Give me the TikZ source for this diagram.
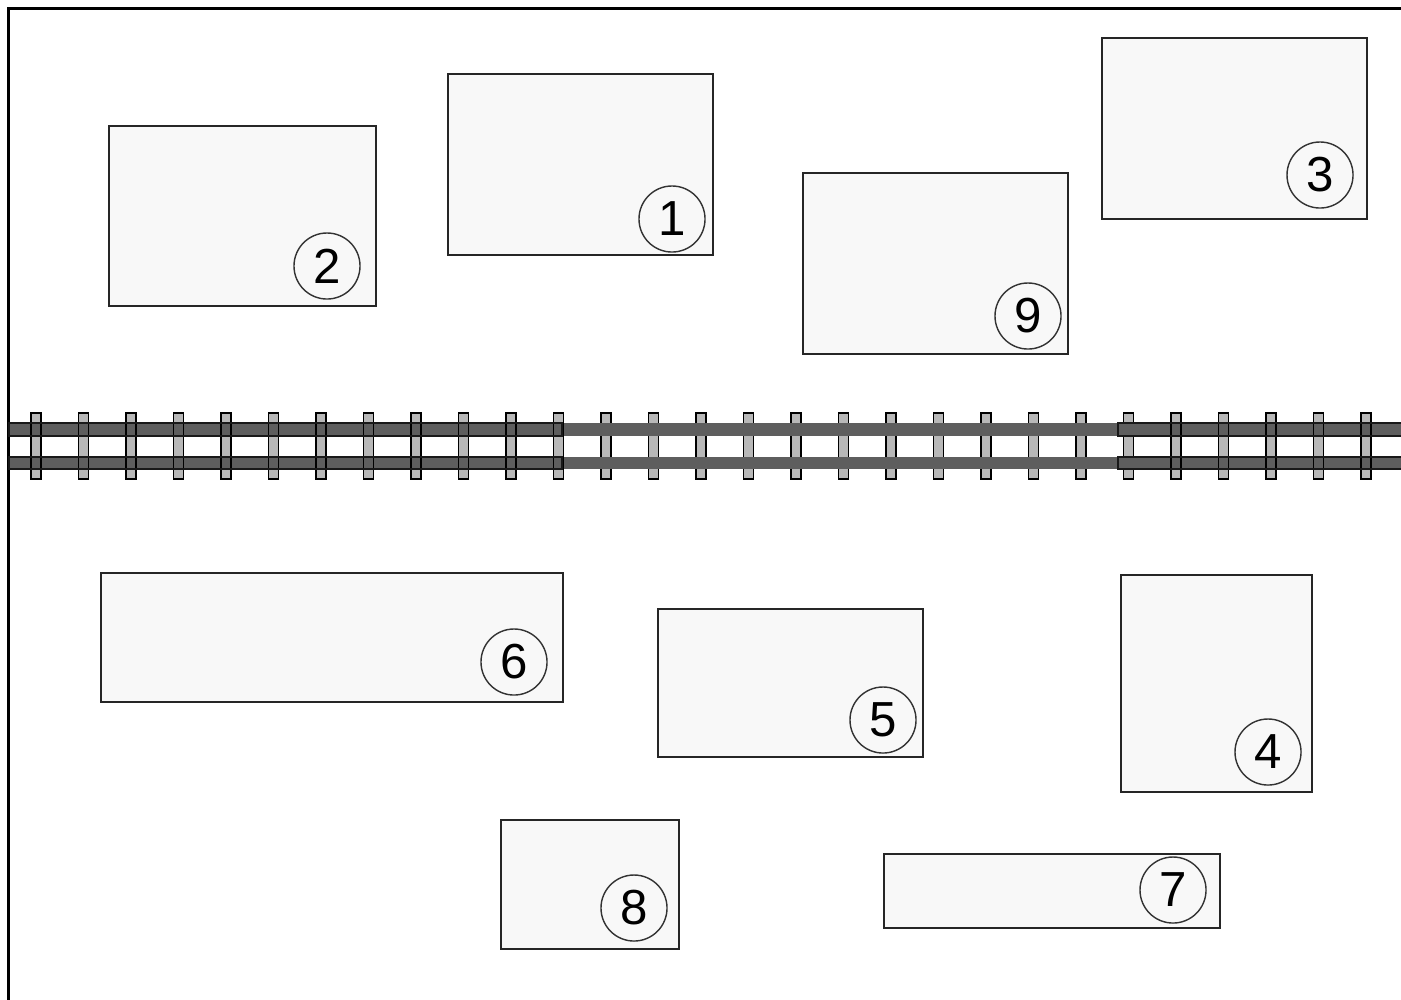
\documentclass[tikz,border=0pt]{standalone}
\usepackage{fontspec}
\setmainfont{Liberation Sans}
\usepackage{xcolor}
\usetikzlibrary{positioning}
\definecolor{lotfill}{HTML}{F8F8F8}
\definecolor{railgray}{HTML}{5E5E5E}
\definecolor{tiegray}{HTML}{B8B8B8}

\begin{document}
\begin{tikzpicture}[
    x=0.01cm, y=-0.01cm,
    lot/.style={
        rectangle,
        draw=black!85,
        line width=0.45pt,
        fill=lotfill,
        inner sep=0pt
    },
    marker/.style={
        circle,
        draw=black!80,
        line width=0.4pt,
        inner sep=0pt,
        minimum size=0.66cm,
        font=\fontsize{14}{16}\selectfont
    },
    tie/.style={fill=tiegray, draw=black, line width=0.45pt},
    tieedge/.style={draw=black, line width=0.45pt},
    railedge/.style={draw=black!90, line width=0.45pt}
]
\useasboundingbox (0,0) rectangle (1401,999);

% Frame
\draw[line width=0.7pt] (8.5,1005) -- (8.5,8.5) -- (1405,8.5);

% Sleepers
\foreach \k in {0,...,28}
    \draw[tie] ({31+47.5*\k},413) rectangle ++(10,66);

% Rails
\fill[railgray] (9,423) rectangle (1405,436);
\fill[railgray] (9,457) rectangle (1405,469);

% Outer sections keep their outlines
\foreach \k in {0,...,11,24,25,26,27,28}
    \draw[tieedge] ({31+47.5*\k},413) rectangle ++(10,66);
\foreach \a/\b in {9/562, 1118/1405} {
    \draw[railedge] (\a,423) rectangle (\b,436);
    \draw[railedge] (\a,457) rectangle (\b,469);
}

% Lots above the track
\node[lot, minimum width=2.65cm, minimum height=1.81cm] (lot1) at (580.5,164.5) {};
\node[lot, minimum width=2.67cm, minimum height=1.80cm] (lot2) at (242.5,216) {};
\node[lot, minimum width=2.65cm, minimum height=1.81cm] (lot3) at (1234.5,128.5) {};
\node[lot, minimum width=2.65cm, minimum height=1.81cm] (lot9) at (935.5,263.5) {};

% Lots below the track
\node[lot, minimum width=4.62cm, minimum height=1.29cm] (lot6) at (332,637.5) {};
\node[lot, minimum width=2.65cm, minimum height=1.48cm] (lot5) at (790.5,683) {};
\node[lot, minimum width=1.91cm, minimum height=2.17cm] (lot4) at (1216.5,683.5) {};
\node[lot, minimum width=1.78cm, minimum height=1.29cm] (lot8) at (590,884.5) {};
\node[lot, minimum width=3.36cm, minimum height=0.74cm] (lot7) at (1052,891) {};

% Numbers
\node[marker] (num1) at (672,219) {1};
\node[marker] (num2) at (327,266) {2};
\node[marker] (num3) at (1320,175) {3};
\node[marker] (num9) at (1028,316) {9};
\node[marker] (num6) at (514,662) {6};
\node[marker] (num5) at (883,720) {5};
\node[marker] (num4) at (1268,752) {4};
\node[marker] (num8) at (634,908) {8};
\node[marker] (num7) at (1173,890) {7};

\end{tikzpicture}
\end{document}
